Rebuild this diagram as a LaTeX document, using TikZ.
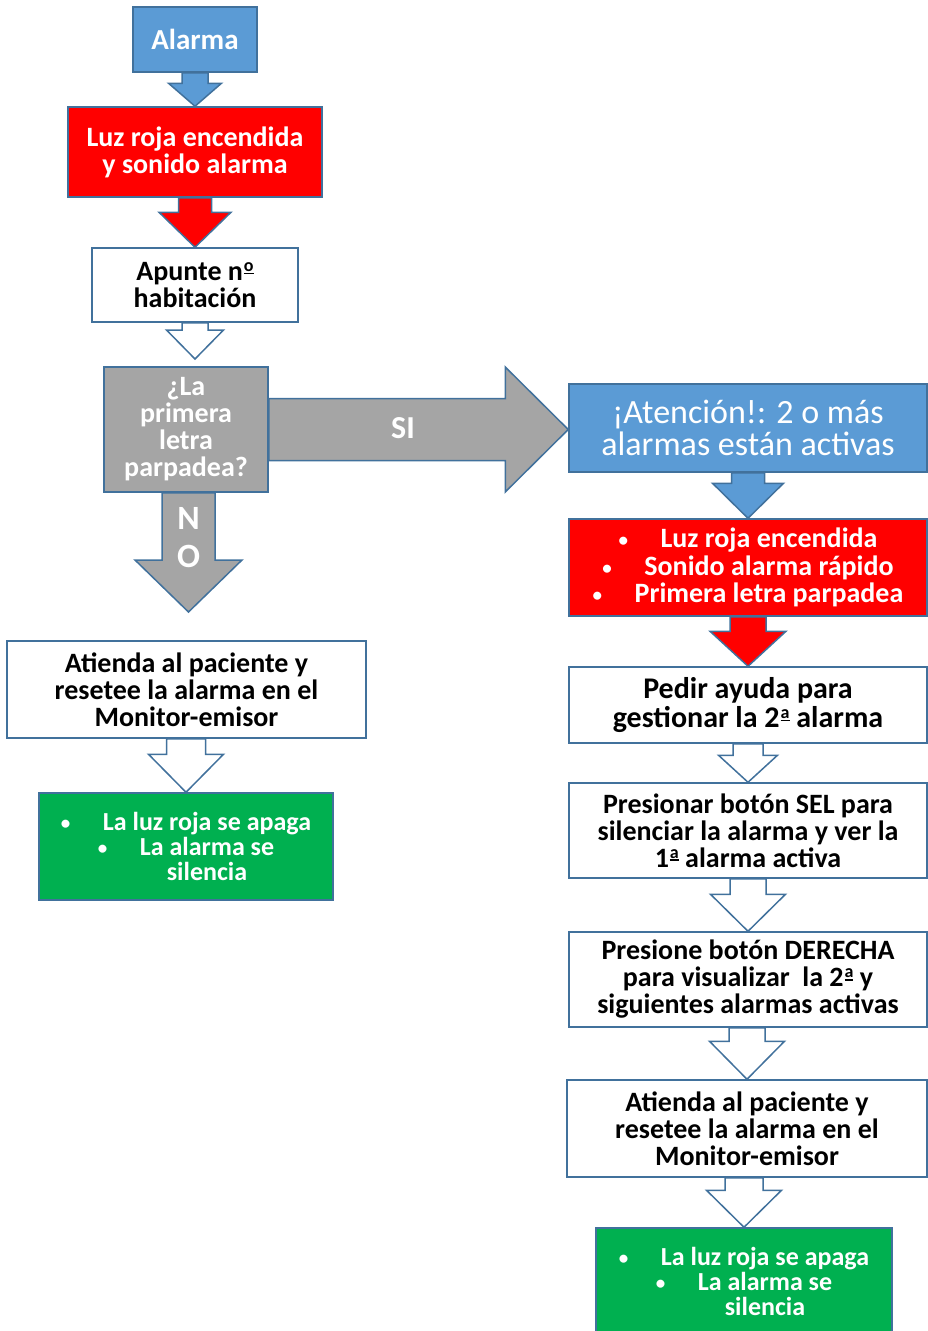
\documentclass[tikz,border=0pt]{standalone}
\usepackage{fontspec}
\setmainfont{Carlito}
\usetikzlibrary{backgrounds,calc}
\definecolor{bblue}{HTML}{5B9BD5}
\definecolor{bord}{HTML}{41719C}
\definecolor{rred}{HTML}{FF0000}
\definecolor{ggray}{HTML}{A5A5A5}
\definecolor{ggreen}{HTML}{00B050}
\tikzset{
  box/.style={draw=bord, line width=1.5pt, rectangle, inner sep=0pt, align=center,
    font=\fontsize{28}{27}\selectfont\bfseries},
  bluebox/.style={box, fill=bblue, text=white},
  redbox/.style={box, fill=rred, text=white},
  whitebox/.style={box, fill=white, text=black},
  graybox/.style={box, fill=ggray, text=white},
  greenbox/.style={box, fill=ggreen, text=white},
  blockarrow/.style={draw=bord, line width=1.5pt, line join=miter},
}
\newcommand\bul{\makebox[42pt][l]{\fontsize{19}{19}\selectfont\raisebox{1pt}{\textbullet}}}
\newcommand\nobul{\hspace*{42pt}}
\newcommand\ord[1]{\kern1pt\raisebox{9pt}{\fontsize{18}{18}\selectfont\setbox0\hbox{#1}\rlap{\hbox{#1}}\rule[-2.8pt]{\wd0}{1.7pt}}}
% down block arrow: #1 from node, #2 tip point, #3 half shaft, #4 half head, #5 head length, #6 fill
\newcommand\dnarrow[6]{%
  \draw[blockarrow, fill=#6] let \p1=(#1.south), \p2=(#2) in
    (\x2-#3,\y1) -- (\x2-#3,\y2+#5) -- (\x2-#4,\y2+#5) -- (\x2,\y2)
    -- (\x2+#4,\y2+#5) -- (\x2+#3,\y2+#5) -- (\x2+#3,\y1) -- cycle;}
\begin{document}
\begin{tikzpicture}[x=1pt,y=-1pt]
\useasboundingbox (0,0) rectangle (928,1331);
% left column
\node[bluebox, minimum width=124, minimum height=65, font=\fontsize{29}{30}\selectfont\bfseries] (alarma) at (195,39.5) {Alarma};
\node[redbox, minimum width=254, minimum height=90] (luz) at (195,152) {Luz roja encendida\\y sonido alarma};
\node[whitebox, minimum width=206, minimum height=74] (apunte) at (195,285) {Apunte n\ord{o}\\habitación};
\node[graybox, minimum width=164, minimum height=125] (gray) at (186,429.5) {¿La\\primera\\letra\\parpadea?};
\node[whitebox, minimum width=359, minimum height=97] (atl) at (186.5,689.5) {Atienda al paciente y\\resetee la alarma en el\\Monitor-emisor};
\node[greenbox, minimum width=294, minimum height=107, font=\fontsize{26}{25}\selectfont\bfseries] (greenl) at (186,846.5) {\bul La luz roja se apaga\\\bul La alarma se\\\nobul silencia};
% right column
\node[bluebox, minimum width=358, minimum height=88, font=\fontsize{34}{32}\selectfont] (atn) at (748,428) {¡Atención!: 2 o más\\alarmas están activas};
\node[redbox, minimum width=358, minimum height=97, font=\fontsize{28}{27.5}\selectfont\bfseries] (red2) at (748,567.5) {\bul Luz roja encendida\\\bul Sonido alarma rápido\\\bul Primera letra parpadea};
\node[whitebox, minimum width=358, minimum height=76, font=\fontsize{30}{29}\selectfont\bfseries] (pedir) at (748,705) {Pedir ayuda para\\gestionar la 2\ord{a} alarma};
\node[whitebox, minimum width=358, minimum height=95] (sel) at (748,830.5) {Presionar botón SEL para\\silenciar la alarma y ver la\\1\ord{a} alarma activa};
\node[whitebox, minimum width=358, minimum height=95] (der) at (748,979.5) {Presione botón DERECHA\\para visualizar\ \ la 2\ord{a} y\\siguientes alarmas activas};
\node[whitebox, minimum width=360, minimum height=97] (atr) at (747,1128.5) {Atienda al paciente y\\resetee la alarma en el\\Monitor-emisor};
\node[greenbox, minimum width=296, minimum height=106, font=\fontsize{26}{25}\selectfont\bfseries] (greenr) at (744,1281) {\bul La luz roja se apaga\\\bul La alarma se\\\nobul silencia};
\coordinate (tip3) at (195,359);
\coordinate (notip) at (188.5,612);
\begin{pgfonlayer}{background}
\dnarrow{alarma}{luz.north}{13pt}{26.5pt}{23pt}{bblue}
\dnarrow{luz}{apunte.north}{16.5pt}{36pt}{35pt}{rred}
\dnarrow{apunte}{tip3}{13pt}{28.5pt}{29pt}{white}
\dnarrow{gray}{notip}{26.5pt}{53.5pt}{52pt}{ggray}
\dnarrow{atl}{greenl.north}{19.5pt}{37.5pt}{38pt}{white}
\dnarrow{atn}{red2.north}{16.5pt}{35.5pt}{35pt}{bblue}
\dnarrow{red2}{pedir.north}{18pt}{38pt}{35pt}{rred}
\dnarrow{pedir}{sel.north}{15pt}{29.5pt}{27pt}{white}
\dnarrow{sel}{der.north}{18pt}{37.5pt}{37pt}{white}
\dnarrow{der}{atr.north}{18pt}{37.5pt}{38pt}{white}
\dnarrow{atr}{greenr.north}{19pt}{37.5pt}{37pt}{white}
\draw[blockarrow, fill=ggray] let \p1=(gray.east), \p2=(atn.west) in
  (\x1,\y1+31pt) -- (\x2-63pt,\y1+31pt) -- (\x2-63pt,\y1+62.5pt) -- (\x2,\y1)
  -- (\x2-63pt,\y1-62.5pt) -- (\x2-63pt,\y1-31pt) -- (\x1,\y1-31pt) -- cycle;
\end{pgfonlayer}
\node[text=white, font=\fontsize{32}{32}\selectfont\bfseries] (si) at (403,428) {SI};
\node[text=white, font=\fontsize{34}{38}\selectfont\bfseries, align=center] (no) at (188.5,538) {N\\O};
\end{tikzpicture}
\end{document}
